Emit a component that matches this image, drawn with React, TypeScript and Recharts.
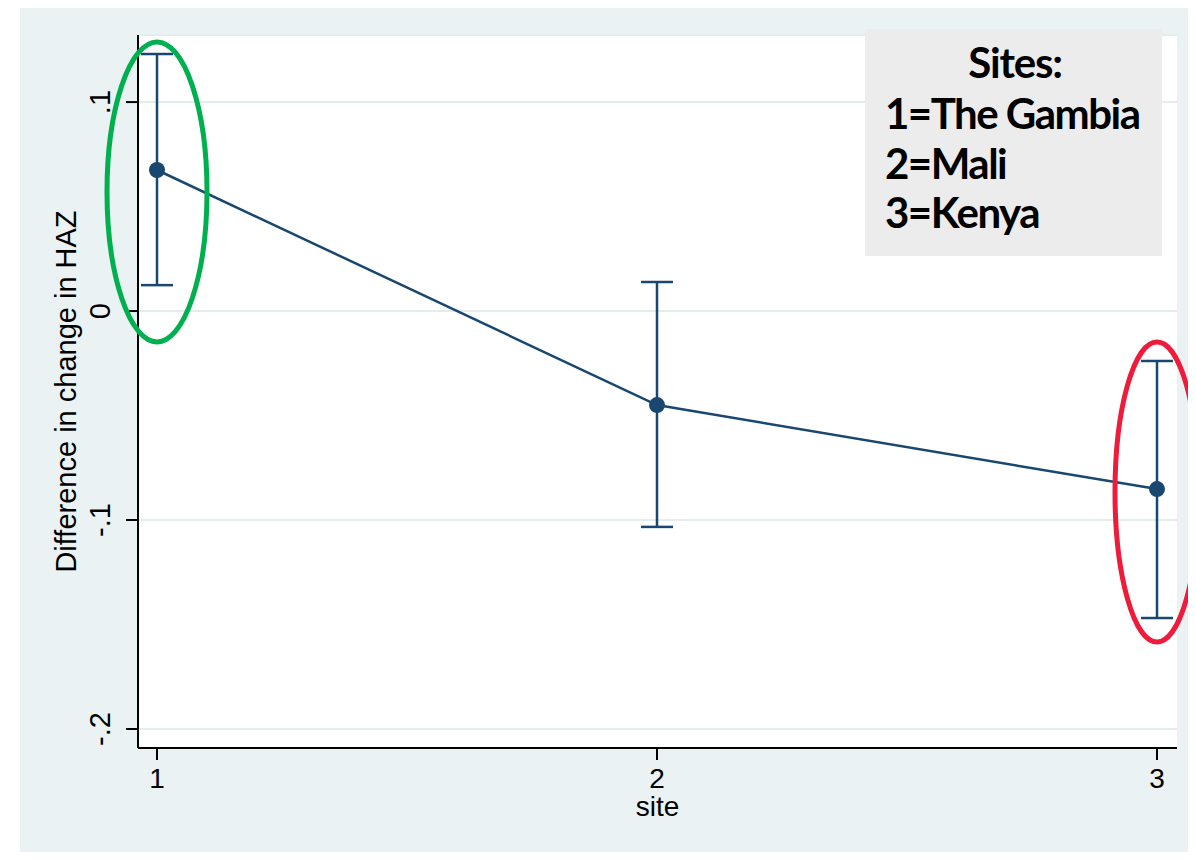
import React from "react"
import { ComposedChart, Line, ErrorBar, XAxis, YAxis, CartesianGrid, ReferenceDot } from "recharts"

const sites = [1, 2, 3]
const estimates = [0.0675, -0.045, -0.0852]
const ciLower = [0.0124, -0.1033, -0.1469]
const ciUpper = [0.123, 0.0139, -0.0239]
const yTicks = [-0.2, -0.1, 0, 0.1]
const yTickLabels = ["-.2", "-.1", "0", ".1"]
const siteNames = ["The Gambia", "Mali", "Kenya"]
const highlightSites = [1, 3]
const highlightY = [0.057, -0.0866]
const highlightColors = ["#00b04f", "#ee1b3b"]
const highlightRx = [50, 42]

const navy = "#1a476f"
const axisFont = "'Liberation Sans', Arial, sans-serif"
const boxFont = "Lato, 'Open Sans', sans-serif"

const data = sites.map((s, i) => ({
  site: s,
  est: estimates[i],
  err: [estimates[i] - ciLower[i], ciUpper[i] - estimates[i]],
}))

function YTick(props: any) {
  const { x, y, payload } = props
  const idx = yTicks.indexOf(payload.value)
  const label = idx >= 0 ? yTickLabels[idx] : String(payload.value)
  const bx = x - 16
  return (
    <text x={bx} y={y} transform={`rotate(-90, ${bx}, ${y})`} textAnchor="middle" fontSize={29} fontFamily={axisFont} fill="#000">
      {label}
    </text>
  )
}

function XTick(props: any) {
  const { x, y, payload } = props
  return (
    <text x={x} y={y + 28} textAnchor="middle" fontSize={28} fontFamily={axisFont} fill="#000">
      {payload.value}
    </text>
  )
}

function YTitle(props: any) {
  const { viewBox } = props
  const cy = viewBox.y + viewBox.height / 2
  const bx = 76
  return (
    <text x={bx} y={cy} transform={`rotate(-90, ${bx}, ${cy})`} textAnchor="middle" fontSize={29} fontFamily={axisFont} fill="#000">
      Difference in change in HAZ
    </text>
  )
}

function XTitle(props: any) {
  const { viewBox } = props
  return (
    <text x={viewBox.x + viewBox.width / 2} y={viewBox.y + 68} textAnchor="middle" fontSize={28} fontFamily={axisFont} fill="#000">
      site
    </text>
  )
}

export default function App() {
  return (
    <div style={{ position: "relative", width: 1196, height: 860, margin: -8, background: "#fff", overflow: "hidden" }}>
      <div style={{ position: "absolute", left: 20, top: 4, width: 1176, height: 855, background: "#eaf2f3" }} />
      <div style={{ position: "absolute", left: 0, top: 0 }}>
        <ComposedChart width={1196} height={860} data={data} margin={{ top: 35, right: 19, bottom: 52, left: 0 }}>
          <CartesianGrid vertical={false} fill="#ffffff" stroke="#e4eced" strokeWidth={2} />
          <XAxis
            dataKey="site"
            type="number"
            domain={[1, 3]}
            ticks={sites}
            padding={{ left: 19, right: 20 }}
            height={60}
            tickSize={12}
            tickMargin={0}
            tick={<XTick />}
            axisLine={{ stroke: "#000", strokeWidth: 2 }}
            tickLine={{ stroke: "#000", strokeWidth: 2 }}
            label={<XTitle />}
          />
          <YAxis
            type="number"
            domain={[-0.2091, 0.1321]}
            allowDataOverflow
            ticks={yTicks}
            width={138}
            tickSize={12}
            tickMargin={0}
            tick={<YTick />}
            axisLine={{ stroke: "#000", strokeWidth: 2 }}
            tickLine={{ stroke: "#000", strokeWidth: 2 }}
            label={<YTitle />}
          />
          <Line
            dataKey="est"
            stroke={navy}
            strokeWidth={2.5}
            dot={{ r: 8, fill: navy, stroke: navy, strokeWidth: 0 }}
            isAnimationActive={false}
          >
            <ErrorBar dataKey="err" direction="y" width={16} stroke={navy} strokeWidth={2.5} />
          </Line>
          {highlightSites.map((s, i) => (
            <ReferenceDot
              key={s}
              x={s}
              y={highlightY[i]}
              ifOverflow="visible"
              shape={(p: any) => (
                <ellipse cx={p.cx} cy={p.cy} rx={highlightRx[i]} ry={150} fill="none" stroke={highlightColors[i]} strokeWidth={5} />
              )}
            />
          ))}
        </ComposedChart>
      </div>
      <div style={{ position: "absolute", left: 865, top: 29, width: 297, height: 227, background: "#ececec" }}>
        <svg width={297} height={227} style={{ display: "block" }}>
          <text x={150} y={49} textAnchor="middle" fontSize={42} fontWeight={700} fontFamily={boxFont} fill="#000"
            letterSpacing={-1.2}>
            Sites:
          </text>
          {siteNames.map((n, i) => (
            <text key={n} x={20} y={100 + i * 49.5} fontSize={42} fontWeight={700} fontFamily={boxFont} fill="#000"
              letterSpacing={-1.5}>
              {`${sites[i]}=${n}`}
            </text>
          ))}
        </svg>
      </div>
    </div>
  )
}
